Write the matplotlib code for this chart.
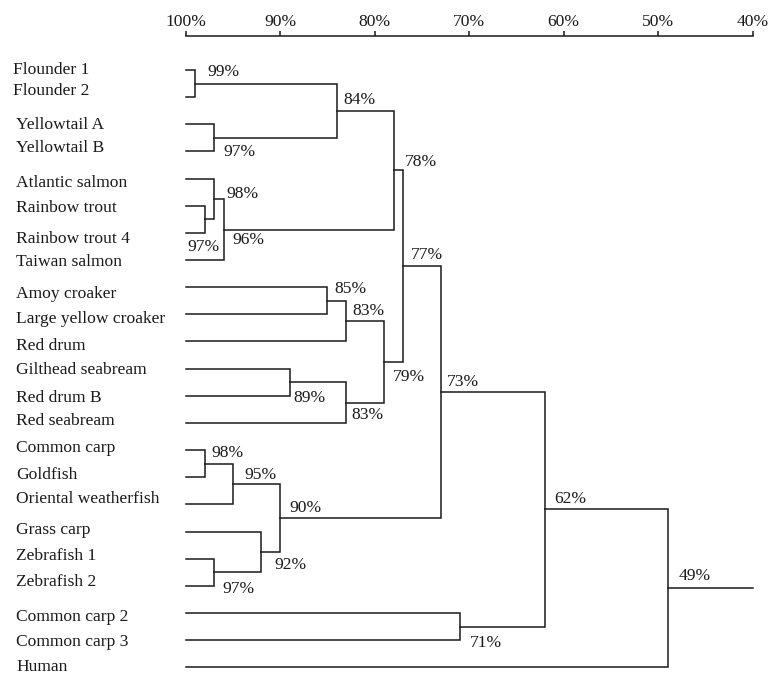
import matplotlib
matplotlib.use("Agg")
import matplotlib.pyplot as plt

# Leaves, top to bottom
species = [
    "Flounder 1", "Flounder 2", "Yellowtail A", "Yellowtail B",
    "Atlantic salmon", "Rainbow trout", "Rainbow trout 4", "Taiwan salmon",
    "Amoy croaker", "Large yellow croaker", "Red drum", "Gilthead seabream",
    "Red drum B", "Red seabream", "Common carp", "Goldfish",
    "Oriental weatherfish", "Grass carp", "Zebrafish 1", "Zebrafish 2",
    "Common carp 2", "Common carp 3", "Human",
]
n_leaves = len(species)

# Merges (scipy-style ids: 0..22 leaves, 23.. earlier merges) and similarity (%)
merge_left = [0, 2, 23, 5, 4, 27, 25, 8, 30, 11, 32, 31, 29, 14, 36, 18, 17, 37, 35, 20, 41, 43]
merge_right = [1, 3, 24, 6, 26, 7, 28, 9, 10, 12, 13, 33, 34, 15, 16, 19, 38, 39, 40, 21, 42, 22]
merge_similarity = [99, 97, 84, 98, 97, 96, 78, 85, 83, 89, 83, 79, 77, 98, 95, 97, 92, 90, 73, 71, 62, 49]

tick_values = [100, 90, 80, 70, 60, 50, 40]

# Layout: label offsets (pixels right, pixels down) for each merge label
label_offsets = [
    (12, -12), (9, 14), (6, -11), (22, -25), (-27, 48), (8.5, 10.5), (11, -8),
    (7, -12), (6, -10), (4, 16), (5, 12), (9, 15), (7.5, -11), (7, -11),
    (11, -9), (8, 17), (13, 13), (9, -10), (6, -9.5), (10.5, 16), (9.5, -10),
    (10.7, -12),
]
# per-leaf label nudges (pixels down) and left edges (pixels from figure left)
leaf_nudge = [0, -6, 1, -3, 4, 2, 6, 2, 7, 5, 5, 1, 2, -2, -2, -2, -5, -2, -3, -4, 4, 2, 0]
leaf_left = [12.5, 12.5] + [16] * (n_leaves - 2)

W, H = 773, 674
FONT = "Liberation Serif"
FS = 12.6
LW = 1.1
INK = "#1a1a1a"

fig = plt.figure(figsize=(W / 100, H / 100), dpi=100)
x0_px, x1_px = 185.7, 752.7
top_px, bot_px = 35.7, 674
ax = fig.add_axes([x0_px / W, 1 - bot_px / H, (x1_px - x0_px) / W, (bot_px - top_px) / H])

leaf_y0, leaf_dy = 70.0, 27.15
ax.set_xlim(100, 40)
ax.set_ylim((bot_px - leaf_y0) / leaf_dy, (top_px - leaf_y0) / leaf_dy)

# node positions: x = similarity, y = leaf row (midpoint for merges)
pos = {i: (100.0, float(i)) for i in range(n_leaves)}
for k, (a, b, s) in enumerate(zip(merge_left, merge_right, merge_similarity)):
    xa, ya = pos[a]
    xb, yb = pos[b]
    ax.plot([xa, s, s, xb], [ya, ya, yb, yb], color=INK, lw=LW,
            solid_joinstyle="miter", clip_on=False)
    pos[n_leaves + k] = (s, (ya + yb) / 2)

root = pos[n_leaves + len(merge_similarity) - 1]
ax.plot([root[0], tick_values[-1]], [root[1], root[1]], color=INK, lw=LW, clip_on=False)

# similarity labels at each merge
for k, s in enumerate(merge_similarity):
    nx, ny = pos[n_leaves + k]
    dx, dy = label_offsets[k]
    ax.annotate(f"{s}%", xy=(nx, ny), xytext=(dx, -dy), textcoords="offset pixels",
                ha="left", va="center", fontsize=FS, family=FONT, color=INK)

# leaf names
for i, name in enumerate(species):
    ax.annotate(name, xy=(100, i), xytext=(leaf_left[i] - x0_px, -leaf_nudge[i]),
                textcoords="offset pixels", ha="left", va="center",
                fontsize=FS, family=FONT, color=INK, annotation_clip=False)

# top scale
for side in ["bottom", "left", "right"]:
    ax.spines[side].set_visible(False)
ax.spines["top"].set_linewidth(LW)
ax.spines["top"].set_color(INK)
ax.xaxis.set_ticks_position("top")
ax.set_xticks(tick_values)
ax.set_xticklabels([f"{v}%" for v in tick_values], family=FONT, fontsize=FS, color=INK)
ax.tick_params(axis="x", direction="out", length=3.4, width=LW, color=INK, pad=0.8)
ax.set_yticks([])
ax.patch.set_visible(False)

fig.savefig("out.png", dpi=100, facecolor="white")
